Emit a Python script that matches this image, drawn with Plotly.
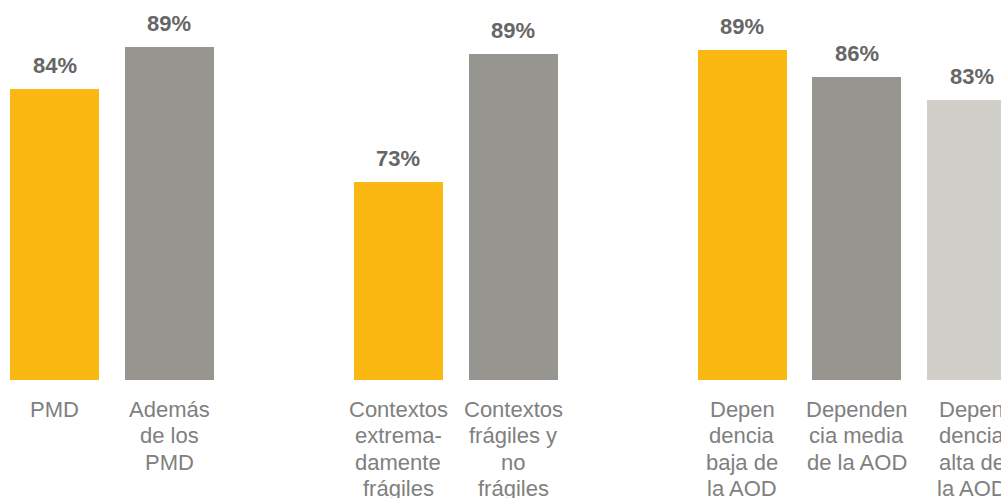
import plotly.graph_objects as go

# Share of respondents per group (fractions), shown as three groups of bars
group_names = ["Categoría de país", "Fragilidad", "Dependencia de la AOD"]
categories = [
    ["PMD", "Además<br>de los<br>PMD"],
    ["Contextos<br>extrema-<br>damente<br>frágiles", "Contextos<br>frágiles y<br>no<br>frágiles"],
    ["Depen<br>dencia<br>baja de<br>la AOD", "Dependen<br>cia media<br>de la AOD", "Depen<br>dencia<br>alta de<br>la AOD"],
]
values = [
    [0.844, 0.894],
    [0.7345, 0.886],
    [0.890, 0.859, 0.831],
]
bar_colors = [
    ["#FBB813", "#96958F"],
    ["#FBB813", "#96958F"],
    ["#FBB813", "#96958F", "#D0CFCA"],
]

LABEL_COLOR = "#666666"
TICK_COLOR = "#808080"
FONT = "Liberation Sans, Arial, sans-serif"
Y_MIN = 0.5

# Lay the groups out on one axis, leaving one empty slot between groups
xs, ys, cols, ticks = [], [], [], []
slot = 0
for g, cats in enumerate(categories):
    for c, cat in enumerate(cats):
        xs.append(slot)
        ys.append(values[g][c])
        cols.append(bar_colors[g][c])
        ticks.append(cat)
        slot += 1
    slot += 1

fig = go.Figure()
fig.add_trace(go.Bar(
    x=xs, y=ys,
    marker=dict(color=cols, line=dict(width=0)),
    width=0.7765,
    hoverinfo="skip",
))

# Value labels above each bar
for x, y in zip(xs, ys):
    fig.add_annotation(
        x=x, y=y, xref="x", yref="y",
        text=f"<b>{y:.0%}</b>",
        showarrow=False, yanchor="bottom", yshift=9,
        font=dict(family=FONT, size=22, color=LABEL_COLOR),
    )

# Category labels under the bars, one annotation per line for tighter leading
LINE_STEP = 26.3
for x, label in zip(xs, ticks):
    for i, line in enumerate(label.split("<br>")):
        fig.add_annotation(
            x=x, y=Y_MIN, xref="x", yref="y",
            text=line, showarrow=False,
            xanchor="center", yanchor="top",
            yshift=-(15 + i * LINE_STEP),
            font=dict(family=FONT, size=22, color=TICK_COLOR),
        )

fig.update_layout(
    width=1001, height=498,
    margin=dict(l=0, r=0, t=0, b=118),
    paper_bgcolor="white", plot_bgcolor="white",
    showlegend=False,
    bargap=0,
    xaxis=dict(
        range=[-0.4755, 8.257],
        showgrid=False, zeroline=False, showline=False, ticks="",
        showticklabels=False,
    ),
    yaxis=dict(
        range=[Y_MIN, Y_MIN + 380 / 845],
        showgrid=False, zeroline=False, showline=False,
        showticklabels=False, ticks="",
    ),
)

fig.write_html("out.html")
